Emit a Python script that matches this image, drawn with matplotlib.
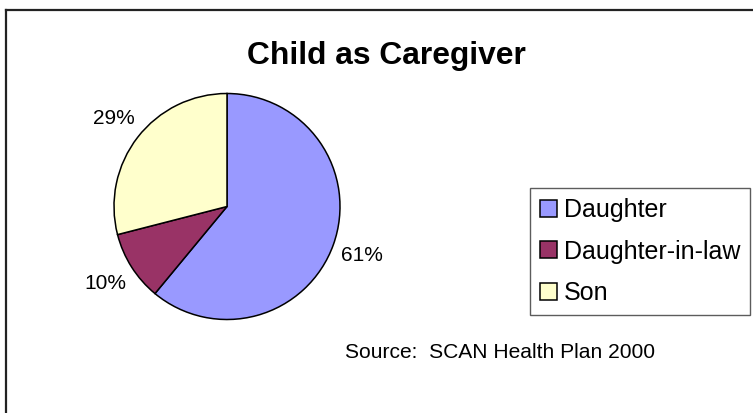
import matplotlib.pyplot as plt
from matplotlib.lines import Line2D

# datos del grafico
categorias = ['Daughter', 'Daughter-in-law', 'Son']
porcentajes = [61, 10, 29]
colores = ['#9999FF', '#993366', '#FFFFCC']

plt.rcParams['font.family'] = ['Liberation Sans', 'DejaVu Sans']

W, H = 753, 413
fig = plt.figure(figsize=(W / 100, H / 100), dpi=100)

# marco (solo arriba e izquierda)
fig.add_artist(Line2D([6 / W, 6 / W], [0, 1 - 10 / H], color='#222222', lw=1.6,
                      transform=fig.transFigure))
fig.add_artist(Line2D([6 / W, 1], [1 - 10 / H, 1 - 10 / H], color='#222222', lw=1.6,
                      transform=fig.transFigure))

# pie: centro (227, 206.5), radio 113 px
cx, cy, r = 227, 206.5, 113
ax = fig.add_axes([(cx - r) / W, (H - cy - r) / H, 2 * r / W, 2 * r / H])
wedges, textos, autotextos = ax.pie(porcentajes, colors=colores, startangle=90,
                                    counterclock=False, autopct='%1.0f%%',
                                    pctdistance=1.27,
                                    wedgeprops={'edgecolor': 'black', 'linewidth': 1.1},
                                    textprops={'fontsize': 15, 'color': 'black'})
ax.set_xlim(-1, 1)
ax.set_ylim(-1, 1)
ax.set_aspect('equal')

fig.text(386 / W, 1 - 56 / H, 'Child as Caregiver', fontsize=22.9, fontweight='bold',
         ha='center', va='center')

fig.text(345 / W, 1 - 352 / H, 'Source:  SCAN Health Plan 2000', fontsize=15.1,
         ha='left', va='center')

leg = fig.legend(wedges, categorias, loc='upper left',
                 bbox_to_anchor=(530 / W, 1 - 188 / H), bbox_transform=fig.transFigure,
                 fontsize=18, frameon=True, fancybox=False, shadow=False,
                 handlelength=0.68, handleheight=0.68, handletextpad=0.28,
                 labelspacing=0.7, borderpad=0.4, borderaxespad=0)
leg.get_frame().set_edgecolor('#333333')
leg.get_frame().set_linewidth(1.0)

plt.savefig('out.png', dpi=100)
